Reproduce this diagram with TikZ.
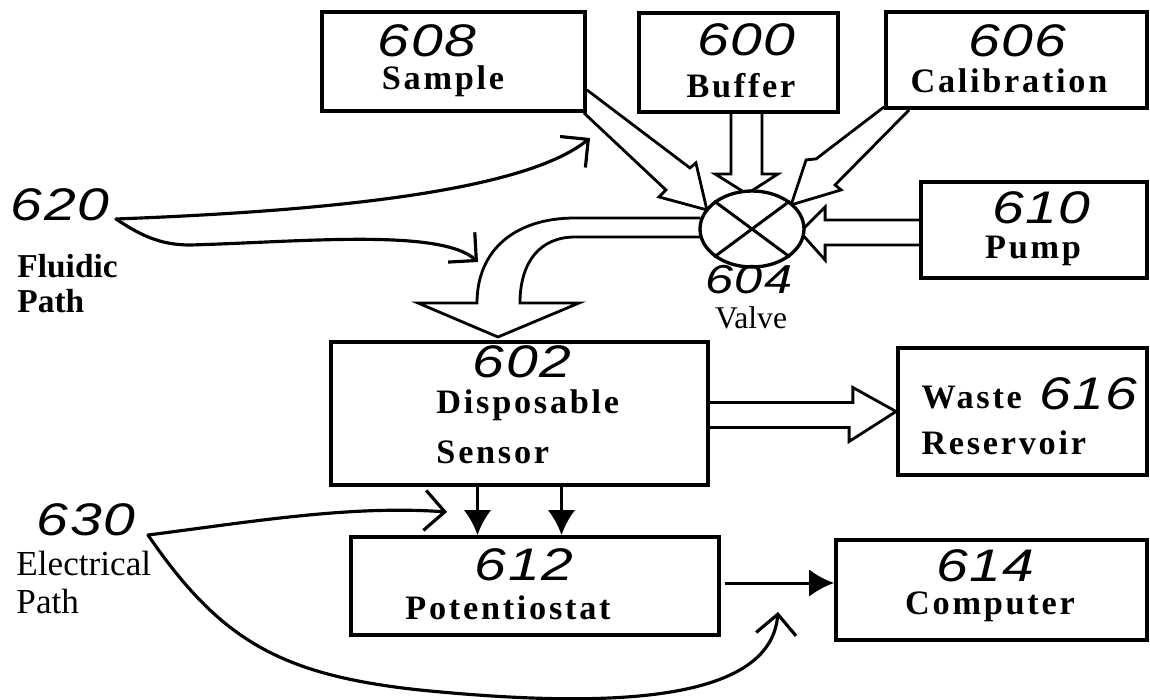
\documentclass[tikz,border=0pt]{standalone}
\usepackage{fontspec}
\setmainfont{Liberation Serif}
\newfontfamily\spacedfont[LetterSpace=8]{Liberation Serif}
\newfontfamily\handfont[FakeStretch=1.25, LetterSpace=3]{Liberation Sans}
\usetikzlibrary{arrows.meta, positioning, shapes.geometric, calc, backgrounds}
\tikzset{
  every picture/.style={line width=1.7pt},
  box/.style={draw, line width=2.2pt, inner sep=0pt},
  valvebox/.style={draw, ellipse, line width=1.9pt, fill=white, minimum width=2.08cm, minimum height=1.52cm, inner sep=0pt},
  pipe/.style={draw, fill=white, line width=1.6pt, line join=miter},
  wire/.style={-{Latex[length=5mm, width=5.5mm]}, line width=1.7pt},
  leader/.style={-{Straight Barb[length=4mm, width=8mm]}, line width=1.8pt, line cap=round},
  boxtext/.style={font=\spacedfont\bfseries\fontsize{19.5}{19.5}\selectfont, anchor=base, inner sep=0pt},
  refnum/.style={font=\handfont\itshape\fontsize{26}{26}\selectfont, inner sep=0pt},
  pathlabel/.style={font=\fontsize{20}{22}\selectfont, anchor=base west, inner sep=0pt},
}
\begin{document}
\begin{tikzpicture}[x=0.02cm, y=-0.02cm]
  \useasboundingbox (0,0) rectangle (1150,700);
  \node[box, minimum width=5.26cm, minimum height=1.98cm] (sample) at (453.5,61.5) {};
  \node[box, minimum width=3.98cm, minimum height=1.98cm] (buffer) at (738.5,62.5) {};
  \node[box, minimum width=5.22cm, minimum height=1.92cm] (calib) at (1016.5,60) {};
  \node[box, minimum width=4.52cm, minimum height=1.92cm] (pump) at (1034,230) {};
  \node[box, minimum width=7.54cm, minimum height=2.86cm] (sensor) at (519.5,413.5) {};
  \node[box, minimum width=4.98cm, minimum height=2.54cm] (waste) at (1022.5,411.5) {};
  \node[box, minimum width=7.36cm, minimum height=1.96cm] (pot) at (535,586) {};
  \node[box, minimum width=6.22cm, minimum height=2.00cm] (computer) at (991.5,590) {};
  \node[valvebox] (valve) at (752,229) {};
  \draw (valve.north west) -- (valve.south east);
  \draw (valve.north east) -- (valve.south west);

  % hollow flow arrows
  \begin{scope}[on background layer]
    \draw[pipe] ($(sample.south east)+(0,-23)$) -- ++(103,78) -- ++(6,-5) -- ++(11,47) -- ++(-48,-13) -- ++(7,-7) -- ($(sample.south east)+(-3,0)$);
    \draw[pipe] ($(buffer.south)+(-7.5,0)$) -- ++(0,60) -- ++(-16,0) -- ++(32,20) -- ++(31,-20) -- ++(-16,0) -- ++(0,-60);
    \draw[pipe] ($(calib.south west)+(0,-3)$) -- ++(-68,52) -- ++(-10,1) -- ++(-15,45) -- ++(50,-15) -- ++(-6,-5) -- ($(calib.south west)+(25,0)$);
    \draw[pipe] ($(pump.west)+(0,-10)$) -- ++(-94,0) -- ++(0,-13) -- ++(-25,25) -- ++(25,28) -- ++(0,-15) -- ++(94,0);
    \draw[pipe] ($(valve.west)+(2,-11)$) -- (575,218) .. controls (515,218) and (477,250) .. (477,303) -- (418,303) -- (498,337) -- (579,303) -- (520,303) .. controls (520,262) and (540,237) .. (575,237) -- ($(valve.west)+(2,8)$);
    \draw[pipe] ($(sensor.east)+(0,-11)$) -- ++(143,0) -- ++(0,-15) -- (waste.west) -- ++(-47,30) -- ++(0,-14) -- ++(-143,0);
  \end{scope}

  % electrical connections
  \coordinate (s1) at ($(sensor.south)+(-42,0)$);
  \coordinate (s2) at ($(sensor.south)+(42,0)$);
  \draw[wire] (s1) -- (s1 |- pot.north);
  \draw[wire] (s2) -- (s2 |- pot.north);
  \coordinate (pc) at ($(pot.east)+(4,-3)$);
  \draw[wire] (pc) -- (pc -| computer.west);

  \node[refnum] (n608) at (427,41) {608};
  \node[boxtext] (tsample) at (443,89) {Sample};
  \node[refnum] (n600) at (746,40) {600};
  \node[boxtext] (tbuffer) at (741,97) {Buffer};
  \node[refnum] (n606) at (1017,41) {606};
  \node[boxtext] (tcalib) at (1009,92) {Calibration};
  \node[refnum] (n610) at (1041,208) {610};
  \node[boxtext] (tpump) at (1033,258) {Pump};
  \node[refnum, font=\handfont\itshape\fontsize{23}{23}\selectfont] (n604) at (749,280) {604};
  \node[font=\fontsize{18}{18}\selectfont, anchor=base, inner sep=0pt] (tvalve) at (751,328) {Valve};
  \node[refnum] (n602) at (522,362) {602};
  \node[boxtext, anchor=base west] (tdisp) at (435,413) {Disposable};
  \node[boxtext, anchor=base west] (tsensor) at (435,463) {Sensor};
  \node[boxtext, anchor=base west] (twaste) at (920,408) {Waste};
  \node[refnum] (n616) at (1088,394) {616};
  \node[boxtext, anchor=base west] (treservoir) at (920,454) {Reservoir};
  \node[refnum] (n612) at (524,565) {612};
  \node[boxtext] (tpot) at (508,619) {Potentiostat};
  \node[refnum] (n614) at (985,566) {614};
  \node[boxtext] (tcomputer) at (990,614) {Computer};

  % path legends
  \node[refnum] (n620) at (60,205) {620};
  \node[pathlabel, font=\bfseries\fontsize{19}{21}\selectfont] (tfluidic) at (16,277) {Fluidic};
  \node[pathlabel, font=\bfseries\fontsize{19}{21}\selectfont] (tfpath) at (16,312) {Path};
  \node[refnum] (n630) at (86,520) {630};
  \node[pathlabel] (telec) at (15,575) {Electrical};
  \node[pathlabel] (tepath) at (15,613) {Path};
  \coordinate (f0) at (116,219);
  \coordinate (f1) at (590,138);
  \coordinate (f2) at (478,262);
  \coordinate (e0) at (148,535);
  \coordinate (e1) at (447,512);
  \coordinate (e2) at (778,612);
  \draw[leader] (f0) .. controls (300,212) and (520,195) .. (f1);
  \draw[leader] (f0) .. controls (140,235) and (160,245) .. (190,245) .. controls (300,242) and (440,228) .. (f2);
  \draw[leader] (e0) .. controls (250,522) and (350,505) .. (e1);
  \draw[leader] (e0) .. controls (220,640) and (280,675) .. (420,690) .. controls (600,708) and (770,705) .. (e2);
\end{tikzpicture}
\end{document}
